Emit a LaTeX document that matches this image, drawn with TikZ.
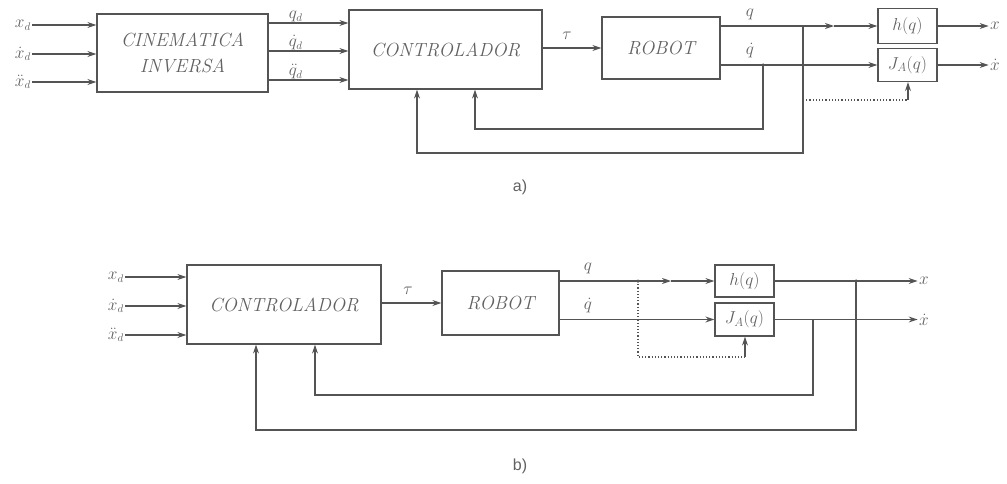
\documentclass[tikz,border=0pt]{standalone}
\usepackage{fontspec}
\newfontfamily\labfont{Liberation Sans}
\usetikzlibrary{arrows.meta,calc}
\definecolor{lc}{gray}{0.33}
\definecolor{tc}{gray}{0.38}
\begin{document}
\begin{tikzpicture}[x=1pt,y=-1pt,
  line/.style={draw=lc, line width=1.2pt},
  arr/.style={line, -{Stealth[length=9pt,width=6pt]}},
  blk/.style={draw=lc, line width=1.2pt, rectangle, inner sep=0pt},
  btxt/.style={font=\fontsize{19}{26}\selectfont\itshape, text=tc, align=center},
  mtxt/.style={font=\fontsize{18}{20}\selectfont, text=tc},
  lab/.style={text=tc, font=\fontsize{16}{18}\selectfont, inner sep=1pt},
  jdot/.style={circle, fill=lc, inner sep=0pt, minimum size=3.5pt},
  dotl/.style={draw=lc, line width=1.2pt, dotted}]
\useasboundingbox (0,0) rectangle (1007,483);

% ---------- a) ----------
\node[blk, btxt, minimum width=171pt, minimum height=78pt] (cin) at (182.5,53) {CINEMATICA\\INVERSA};
\node[blk, btxt, minimum width=193pt, minimum height=79pt] (ctrlA) at (445.5,49.5) {CONTROLADOR};
\node[blk, btxt, minimum width=118pt, minimum height=62pt] (robA) at (661,48) {ROBOT};
\node[blk, mtxt, minimum width=59pt, minimum height=35pt] (hA) at (907.5,26) {$h(q)$};
\node[blk, mtxt, minimum width=59pt, minimum height=33pt] (jA) at (907.5,65) {$J_A(q)$};

\coordinate (ia1) at (32,25);
\coordinate (ia2) at (32,54);
\coordinate (ia3) at (32,82);
\node[lab, left] (lxa1) at (ia1) {$x_d$};
\node[lab, left] (lxa2) at (ia2) {$\dot{x}_d$};
\node[lab, left] (lxa3) at (ia3) {$\ddot{x}_d$};
\draw[arr] (ia1) -- (ia1 -| cin.west);
\draw[arr] (ia2) -- (ia2 -| cin.west);
\draw[arr] (ia3) -- (ia3 -| cin.west);

\coordinate (oa1) at ([yshift=30pt]cin.east);
\coordinate (oa2) at ([yshift=2pt]cin.east);
\coordinate (oa3) at ([yshift=-27pt]cin.east);
\draw[arr] (oa1) -- (oa1 -| ctrlA.west);
\draw[arr] (oa2) -- (oa2 -| ctrlA.west);
\draw[arr] (oa3) -- (oa3 -| ctrlA.west);
\node[lab, above, inner sep=0.5pt] (lqa1) at ([xshift=27pt]oa1) {$q_d$};
\node[lab, above, inner sep=0.5pt] (lqa2) at ([xshift=27pt]oa2) {$\dot{q}_d$};
\node[lab, above, inner sep=0.5pt] (lqa3) at ([xshift=27pt]oa3) {$\ddot{q}_d$};

\draw[arr] (robA.west -| ctrlA.east) -- (robA.west);
\node[lab] (tauA) at (567,36) {$\tau$};

\coordinate (qA) at ([yshift=22pt]robA.east);
\coordinate (qdA) at ([yshift=-17pt]robA.east);
\coordinate (mA) at (834,26);
\draw[arr] (qA) -- (mA);
\draw[arr] (mA) -- (hA.west);
\draw[arr] (qdA) -- (jA.west);
\node[lab] (lqA) at (750,14) {$q$};
\node[lab] (lqdA) at (750,51) {$\dot{q}$};

\coordinate (jqA) at (803,26);
\coordinate (jdA) at (763,65);
\node[jdot] (dotA) at (jdA) {};
\coordinate (fA1) at (417,153);
\coordinate (fA2) at (475,129);
\draw[arr] (jqA) |- (fA1) -- (fA1 |- ctrlA.south);
\draw[arr] (jdA) |- (fA2) -- (fA2 |- ctrlA.south);

\coordinate (dA1) at (803,100);
\coordinate (dA2) at (908,100);
\draw[dotl] (dA1) -- (dA2);
\draw[arr] (dA2) -- (dA2 |- jA.south);

\draw[arr] (hA.east) -- ++(51,0) node[lab, right] (xA) {$x$};
\draw[arr] (jA.east) -- ++(51,0) node[lab, right] (xdA) {$\dot{x}$};

\node[text=tc, font=\labfont\fontsize{16}{18}\selectfont] (capA) at (520,187) {a)};

% ---------- b) ----------
\node[blk, btxt, minimum width=194pt, minimum height=79pt] (ctrlB) at (284,304.5) {CONTROLADOR};
\node[blk, btxt, minimum width=117pt, minimum height=64pt] (robB) at (500.5,303) {ROBOT};
\node[blk, mtxt, minimum width=59pt, minimum height=32pt] (hB) at (744.5,281) {$h(q)$};
\node[blk, mtxt, minimum width=59pt, minimum height=33pt] (jB) at (744.5,319.5) {$J_A(q)$};

\coordinate (ib1) at (125,277);
\coordinate (ib2) at (125,306);
\coordinate (ib3) at (125,335);
\node[lab, left] (lxb1) at (ib1) {$x_d$};
\node[lab, left] (lxb2) at (ib2) {$\dot{x}_d$};
\node[lab, left] (lxb3) at (ib3) {$\ddot{x}_d$};
\draw[arr] (ib1) -- (ib1 -| ctrlB.west);
\draw[arr] (ib2) -- (ib2 -| ctrlB.west);
\draw[arr] (ib3) -- (ib3 -| ctrlB.west);

\draw[arr] (robB.west -| ctrlB.east) -- (robB.west);
\node[lab] (tauB) at (408,291) {$\tau$};

\coordinate (qB) at ([yshift=22pt]robB.east);
\coordinate (qdB) at ([yshift=-16.5pt]robB.east);
\coordinate (mB) at (671,281);
\draw[arr] (qB) -- (mB);
\draw[arr] (mB) -- (hB.west);
\draw[arr] (qdB) -- (jB.west);
\node[lab] (lqB) at (588,268) {$q$};
\node[lab] (lqdB) at (588,306) {$\dot{q}$};

\coordinate (jqB) at (638,281);
\node[jdot] (dotB1) at (jqB) {};
\coordinate (dB1) at (638,357);
\coordinate (dB2) at (745,357);
\draw[dotl] (jqB) -- (dB1) -- (dB2);
\draw[arr] (dB2) -- (dB2 |- jB.south);

\draw[arr] (hB.east) -- ++(143,0) node[lab, right] (xB) {$x$};
\draw[arr] (jB.east) -- ++(143,0) node[lab, right] (xdB) {$\dot{x}$};

\coordinate (jxB) at (856,281);
\node[jdot] (dotB2) at (jxB) {};
\coordinate (jxdB) at (813,319.5);
\coordinate (fB1) at (256,430);
\coordinate (fB2) at (315,395);
\draw[arr] (jxB) |- (fB1) -- (fB1 |- ctrlB.south);
\draw[arr] (jxdB) |- (fB2) -- (fB2 |- ctrlB.south);

\node[text=tc, font=\labfont\fontsize{16}{18}\selectfont] (capB) at (520,466) {b)};
\end{tikzpicture}
\end{document}
